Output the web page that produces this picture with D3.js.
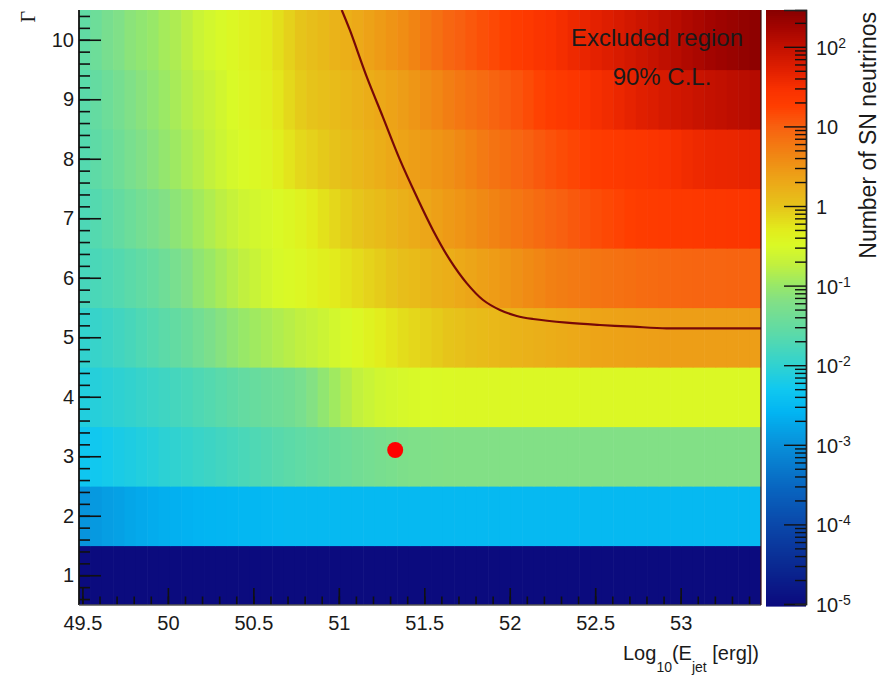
<!DOCTYPE html>
<html><head><meta charset="utf-8">
<script src="https://cdn.jsdelivr.net/npm/d3@7"></script>
<style>
body{margin:0;background:#fff}
svg{display:block}
text{font-family:"Liberation Sans",Arial,sans-serif;fill:#1a1a1a}
</style>
</head><body>
<svg id="chart" width="891" height="675"></svg>
<script>
// ---------------- DATA ----------------
const gammaValues = [1,2,3,4,5,6,7,8,9,10];
const logEjetRange = [49.48, 53.47];       // histogram x range (60 bins)
const xTickValues = [49.5,50,50.5,51,51.5,52,52.5,53];
const yTickValues = [1,2,3,4,5,6,7,8,9,10];
const zTickExponents = [-5,-4,-3,-2,-1,0,1,2];
const zRange = [1e-5, 290];

// log10(number of SN neutrinos), one array per Gamma row, 60 bins in log10(E_jet)
const gamma1 = [-5,-5,-5,-5,-5,-5,-5,-5,-5,-5,-5,-5,-5,-5,-5,-5,-5,-5,-5,-5,-5,-5,-5,-5,-5,-5,-5,-5,-5,-5,-5,-5,-5,-5,-5,-5,-5,-5,-5,-5,-5,-5,-5,-5,-5,-5,-5,-5,-5,-5,-5,-5,-5,-5,-5,-5,-5,-5,-5,-5];
const gamma2 = [-2.95,-2.9,-2.85,-2.81,-2.76,-2.72,-2.69,-2.66,-2.64,-2.62,-2.6,-2.59,-2.58,-2.57,-2.56,-2.55,-2.54,-2.53,-2.52,-2.52,-2.52,-2.52,-2.52,-2.52,-2.52,-2.52,-2.52,-2.52,-2.52,-2.52,-2.52,-2.52,-2.52,-2.52,-2.52,-2.52,-2.52,-2.52,-2.52,-2.52,-2.52,-2.52,-2.52,-2.52,-2.52,-2.52,-2.52,-2.52,-2.52,-2.52,-2.52,-2.52,-2.52,-2.52,-2.52,-2.52,-2.52,-2.52,-2.52,-2.52];
const gamma3 = [-2.33,-2.29,-2.25,-2.21,-2.17,-2.13,-2.09,-2.04,-2.0,-1.96,-1.92,-1.88,-1.84,-1.8,-1.76,-1.72,-1.68,-1.64,-1.6,-1.56,-1.52,-1.48,-1.44,-1.41,-1.37,-1.34,-1.31,-1.28,-1.25,-1.23,-1.22,-1.21,-1.2,-1.2,-1.2,-1.2,-1.2,-1.2,-1.2,-1.2,-1.2,-1.2,-1.2,-1.2,-1.2,-1.2,-1.2,-1.2,-1.2,-1.2,-1.2,-1.2,-1.2,-1.2,-1.2,-1.2,-1.2,-1.2,-1.2,-1.2];
const gamma4 = [-2.13,-2.09,-2.06,-2.02,-1.98,-1.94,-1.9,-1.86,-1.81,-1.77,-1.72,-1.67,-1.62,-1.57,-1.52,-1.48,-1.44,-1.41,-1.37,-1.3,-1.18,-1.06,-0.95,-0.83,-0.73,-0.66,-0.6,-0.57,-0.54,-0.52,-0.5,-0.49,-0.48,-0.47,-0.47,-0.47,-0.47,-0.47,-0.47,-0.47,-0.47,-0.47,-0.47,-0.47,-0.47,-0.47,-0.47,-0.47,-0.47,-0.47,-0.47,-0.47,-0.47,-0.47,-0.47,-0.47,-0.47,-0.47,-0.47,-0.47];
const gamma5 = [-1.98,-1.94,-1.89,-1.84,-1.78,-1.72,-1.66,-1.6,-1.53,-1.45,-1.36,-1.26,-1.16,-1.07,-1.0,-0.95,-0.9,-0.85,-0.8,-0.75,-0.7,-0.64,-0.58,-0.52,-0.46,-0.38,-0.31,-0.25,-0.19,-0.14,-0.1,-0.05,0.0,0.03,0.07,0.1,0.13,0.16,0.18,0.2,0.22,0.25,0.27,0.29,0.31,0.34,0.35,0.36,0.37,0.38,0.39,0.4,0.4,0.4,0.4,0.4,0.4,0.4,0.4,0.4];
const gamma6 = [-1.79,-1.76,-1.72,-1.67,-1.61,-1.55,-1.48,-1.4,-1.3,-1.19,-1.07,-0.99,-0.9,-0.82,-0.74,-0.67,-0.59,-0.53,-0.49,-0.45,-0.4,-0.34,-0.29,-0.23,-0.17,-0.11,-0.06,0.0,0.06,0.1,0.15,0.2,0.24,0.29,0.33,0.38,0.42,0.47,0.53,0.59,0.64,0.7,0.72,0.75,0.77,0.8,0.82,0.84,0.86,0.89,0.9,0.91,0.93,0.94,0.95,0.95,0.95,0.96,0.96,0.96];
const gamma7 = [-1.74,-1.67,-1.6,-1.52,-1.43,-1.35,-1.27,-1.19,-1.1,-1.02,-0.93,-0.85,-0.77,-0.69,-0.62,-0.58,-0.54,-0.49,-0.44,-0.38,-0.3,-0.22,-0.14,-0.07,-0.01,0.05,0.1,0.16,0.21,0.27,0.32,0.38,0.44,0.49,0.55,0.61,0.67,0.72,0.78,0.84,0.9,0.95,1.0,1.05,1.1,1.14,1.18,1.21,1.25,1.28,1.3,1.31,1.33,1.34,1.35,1.36,1.37,1.38,1.39,1.4];
const gamma8 = [-1.67,-1.58,-1.49,-1.4,-1.3,-1.21,-1.13,-1.04,-0.96,-0.88,-0.81,-0.72,-0.63,-0.56,-0.51,-0.47,-0.43,-0.34,-0.24,-0.15,-0.1,-0.04,0.02,0.07,0.13,0.18,0.24,0.3,0.35,0.4,0.44,0.49,0.54,0.61,0.68,0.75,0.82,0.87,0.93,0.99,1.05,1.1,1.15,1.19,1.24,1.28,1.31,1.33,1.36,1.38,1.41,1.45,1.49,1.54,1.58,1.6,1.61,1.62,1.64,1.65];
const gamma9 = [-1.62,-1.52,-1.42,-1.33,-1.22,-1.14,-1.06,-0.98,-0.9,-0.82,-0.75,-0.67,-0.59,-0.51,-0.46,-0.41,-0.36,-0.26,-0.15,-0.05,0.01,0.05,0.1,0.14,0.19,0.25,0.3,0.35,0.41,0.48,0.56,0.63,0.71,0.78,0.84,0.9,0.96,1.02,1.08,1.15,1.22,1.29,1.33,1.38,1.44,1.49,1.54,1.6,1.66,1.72,1.76,1.81,1.86,1.9,1.94,1.98,2.01,2.04,2.07,2.1];
const gamma10 = [-1.55,-1.42,-1.31,-1.22,-1.12,-1.06,-1.0,-0.92,-0.86,-0.77,-0.65,-0.58,-0.52,-0.45,-0.4,-0.35,-0.3,-0.2,-0.1,0.0,0.06,0.12,0.18,0.23,0.29,0.36,0.43,0.5,0.57,0.66,0.76,0.85,0.94,1.0,1.06,1.12,1.17,1.23,1.28,1.34,1.4,1.45,1.51,1.57,1.63,1.68,1.74,1.79,1.85,1.91,1.96,2.02,2.08,2.14,2.19,2.24,2.28,2.32,2.37,2.41];

// 90% C.L. exclusion contour
const contourLogE  = [51.017,51.065,51.163,51.258,51.358,51.456,51.551,51.650,51.748,51.844,51.943,52.041,52.136,52.333,52.528,52.721,52.918,53.116,53.47];
const contourGamma = [10.5,10.16,9.379,8.70,7.98,7.36,6.80,6.30,5.91,5.626,5.458,5.358,5.307,5.245,5.206,5.177,5.150,5.150,5.150];

// marker
const markerLogE = [51.33];
const markerGamma = [3.105];

// ---------------- STYLE ----------------
const paletteLogs = [-5,-4.5,-4,-3.5,-3,-2.6,-2.3,-2,-1.6,-1.2,-1,-0.75,-0.5,-0.3,0,0.3,0.6,1,1.25,1.45,1.7,2,2.25,2.46];
const paletteColors = ["#0b0b7e","#0a2a92","#0a48aa","#0868c2","#0890da","#02b4f2","#10c8f0","#30d2d0","#5cdaa8","#82e086","#98e868","#c0f040","#dafa26","#e2ec1c","#e6c41a","#eca818","#f08a14","#f86010","#ff3e00","#fa3200","#e22000","#c21000","#a20400","#880000"];

const P = {left:79, right:761, top:10, bottom:605};
const CB = {left:766, right:806};

const svg = d3.select("#chart");
const x = d3.scaleLinear().domain(logEjetRange).range([P.left, P.right]);
const y = d3.scaleLinear().domain([0.5, 10.5]).range([P.bottom, P.top]);
const z = d3.scaleLog().domain(zRange).range([P.bottom - 1, P.top]);
const colour = d3.scaleLinear().domain(paletteLogs).range(paletteColors).interpolate(d3.interpolateRgb).clamp(true);

svg.append("defs").append("clipPath").attr("id","plotclip")
  .append("rect").attr("x",P.left).attr("y",P.top).attr("width",P.right-P.left).attr("height",P.bottom-P.top);

// heat map cells
const rows = [gamma1,gamma2,gamma3,gamma4,gamma5,gamma6,gamma7,gamma8,gamma9,gamma10];
const cells = svg.append("g").attr("clip-path","url(#plotclip)");
rows.forEach((vals, r) => {
  const gam = gammaValues[r];
  const bw = (logEjetRange[1]-logEjetRange[0]) / vals.length;
  cells.selectAll(null).data(vals).join("rect")
    .attr("x", (d,i) => x(logEjetRange[0] + i*bw))
    .attr("width", (d,i) => x(logEjetRange[0] + (i+1)*bw) - x(logEjetRange[0] + i*bw) + 0.6)
    .attr("y", y(gam + 0.5))
    .attr("height", y(gam - 0.5) - y(gam + 0.5) + 0.6)
    .attr("fill", d => colour(d));
});

// contour
const line = d3.line().x(d => x(d[0])).y(d => y(d[1])).curve(d3.curveCatmullRom.alpha(0.5));
cells.append("path")
  .datum(contourLogE.map((v,i) => [v, contourGamma[i]]))
  .attr("d", line).attr("fill","none").attr("stroke","#760808").attr("stroke-width",2.2);

// marker
svg.selectAll(".marker").data(markerLogE).join("circle")
  .attr("cx", d => x(d)).attr("cy", (d,i) => y(markerGamma[i])).attr("r", 8).attr("fill","#ff0000");

// axes
const tickCol = "#111";
const yMajor = svg.append("g").attr("transform",`translate(${P.left},0)`)
  .call(d3.axisLeft(y).tickValues(yTickValues).tickSize(-22).tickPadding(5).tickFormat(d3.format("d")));
const yMinor = svg.append("g").attr("transform",`translate(${P.left},0)`)
  .call(d3.axisLeft(y).tickValues(d3.range(3,53).map(k => k/5)).tickSize(-11).tickFormat(""));
const xMajor = svg.append("g").attr("transform",`translate(0,${P.bottom})`)
  .call(d3.axisBottom(x).tickValues(xTickValues).tickSize(-17).tickPadding(11).tickFormat(d => String(d)));
const xMinor = svg.append("g").attr("transform",`translate(0,${P.bottom})`)
  .call(d3.axisBottom(x).tickValues(d3.range(495,535).map(k => k/10)).tickSize(-8.5).tickFormat(""));
[yMajor,yMinor,xMajor,xMinor].forEach(a => {
  a.select(".domain").remove();
  a.selectAll(".tick line").attr("stroke",tickCol).attr("stroke-width",1.6);
  a.selectAll("text").attr("font-size",20).attr("fill","#1a1a1a").attr("font-family","Liberation Sans, Arial, sans-serif");
});

// frame lines
svg.append("line").attr("x1",P.left).attr("x2",P.left).attr("y1",P.top).attr("y2",P.bottom).attr("stroke","#111").attr("stroke-width",1.8);
svg.append("line").attr("x1",P.left).attr("x2",P.right).attr("y1",P.bottom).attr("y2",P.bottom).attr("stroke","#555").attr("stroke-width",1.5);
svg.append("line").attr("x1",P.right).attr("x2",P.right).attr("y1",P.top).attr("y2",P.bottom).attr("stroke","#3a1010").attr("stroke-width",1.2);

// colour bar
const cbSlices = d3.range(P.top, P.bottom, 2);
svg.append("g").selectAll("rect").data(cbSlices).join("rect")
  .attr("x", CB.left).attr("width", CB.right-CB.left)
  .attr("y", d => d).attr("height", 2.6)
  .attr("fill", d => colour(Math.log10(z.invert(Math.min(d+1, P.bottom-1)))));
const zMinorVals = [];
zTickExponents.forEach(e => { for (let m=2;m<=9;m++){ const v=m*Math.pow(10,e); if (v<=zRange[1]) zMinorVals.push(v);} });
const zMajor = svg.append("g").attr("transform",`translate(${CB.right},0)`)
  .call(d3.axisRight(z).tickValues(zTickExponents.map(e => Math.pow(10,e))).tickSize(-22).tickFormat(""));
const zMinor = svg.append("g").attr("transform",`translate(${CB.right},0)`)
  .call(d3.axisRight(z).tickValues(zMinorVals).tickSize(-11).tickFormat(""));
[zMajor,zMinor].forEach(a => {
  a.select(".domain").attr("stroke","#222").attr("stroke-width",1.4);
  a.selectAll(".tick line").attr("stroke",tickCol).attr("stroke-width",1.4);
});
const zLab = svg.append("g").selectAll("text").data(zTickExponents).join("text")
  .attr("x", 816).attr("y", e => z(Math.pow(10,e)) + 8).attr("font-size",20);
zLab.each(function(e){
  const t = d3.select(this);
  if (e === 0) t.text("1");
  else if (e === 1) t.text("10");
  else { t.append("tspan").text("10"); t.append("tspan").attr("font-size",14).attr("dy",-7).text(String(e)); }
});

// titles
svg.append("text").attr("transform","translate(876,12) rotate(-90)").attr("text-anchor","end")
  .attr("font-size",23).text("Number of SN neutrinos");
svg.append("text").attr("transform","translate(35,11) rotate(-90)").attr("text-anchor","end")
  .attr("font-size",20).style("font-family","Liberation Serif, serif").text("Γ");
const xt = svg.append("text").attr("x",759).attr("y",660).attr("text-anchor","end").attr("font-size",20);
xt.append("tspan").text("Log");
xt.append("tspan").attr("font-size",14).attr("dy",12).text("10");
xt.append("tspan").attr("dy",-12).text("(E");
xt.append("tspan").attr("font-size",14).attr("dy",12).text("jet");
xt.append("tspan").attr("dy",-12).text(" [erg])");

svg.append("text").attr("x",657).attr("y",46).attr("text-anchor","middle").attr("font-size",24).attr("fill","#1a0a0a").text("Excluded region");
svg.append("text").attr("x",662).attr("y",85).attr("text-anchor","middle").attr("font-size",24).attr("fill","#1a0a0a").text("90% C.L.");
</script>
</body></html>
